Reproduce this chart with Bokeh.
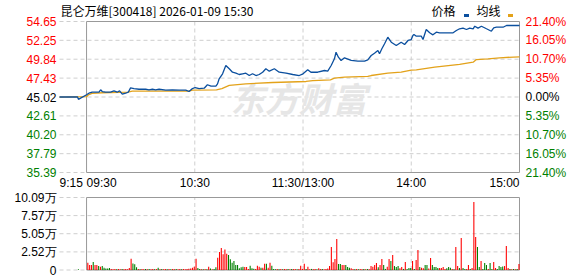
from bokeh.plotting import figure
from bokeh.layouts import column
from bokeh.models import Range1d
from bokeh.core.properties import value
from bokeh.embed import file_html
from bokeh.resources import INLINE

# ---------------- data ----------------
title_text = "昆仑万维[300418] 2026-01-09 15:30"
prev_close = 45.02
price_ticks = [54.65, 52.25, 49.84, 47.43, 45.02, 42.61, 40.20, 37.79, 35.39]
pct_labels = ["21.40%", "16.05%", "10.70%", "5.35%", "0.00%", "5.35%", "10.70%", "16.05%", "21.40%"]
vol_ticks = [10.09, 7.57, 5.05, 2.52, 0]
vol_labels = ["10.09万", "7.57万", "5.05万", "2.52万", "0"]
time_ticks = [0, 15, 75, 135, 195, 255]          # minutes on the session axis (0 = 9:15)
time_labels = ["9:15", "09:30", "10:30", "11:30/13:00", "14:00", "15:00"]
time_align = ["left", "left", "center", "center", "center", "right"]
vgrid_ticks = [75, 135, 195]
open_t = 15
close_t = 255
legend_labels = ["价格", "均线"]

# price line (session minute, price)
price_time = [0, 10, 10.5, 15, 16.3, 18.1, 20, 21.9, 22.8, 23.7, 25.5, 28.3, 30.2, 32, 33.3, 34.8,
              36.7, 38.1, 39.4, 41.3, 44.1, 47.8, 49.6, 51.5, 53.3, 55.2, 58.9, 62.6, 66.3, 70,
              71.8, 73.7, 75.2, 77.4, 80.2, 82, 84, 86.7, 87.6, 88.5, 90.4, 92.2, 94.1, 95.9,
              97.8, 99.6, 101.5, 103.3, 105.2, 107, 108.9, 110.7, 112.6, 114.4, 116.3, 119.1,
              121.8, 125.6, 129.3, 132.9, 135, 137.6, 139.4, 143.1, 146.9, 148.7, 150.6, 152.4,
              153.3, 154.6, 156.1, 158, 161.7, 165.4, 169.1, 170.9, 172.8, 174.6, 176.5, 177.4,
              178.7, 180.2, 182, 183.9, 186.7, 189.4, 191.3, 193.2, 195, 195.9, 196.5, 197.8,
              200.6, 201.5, 203.3, 205.2, 207, 208.9, 210.7, 218.2, 220, 221.8, 223.7, 225.6,
              227.4, 229.3, 230.2, 232, 233.9, 236.7, 239.4, 240.7, 242.2, 245.9, 247.8, 255]
price_value = [45.02, 45.02, 44.72, 45.30, 45.50, 45.63, 45.63, 45.63, 45.94, 45.72, 45.63, 45.63,
               45.81, 45.63, 45.81, 45.38, 45.50, 45.63, 46.19, 46.10, 46.01, 46.01, 45.94, 46.01,
               45.94, 46.01, 45.89, 45.94, 45.89, 45.89, 45.72, 46.10, 46.23, 46.10, 46.14, 46.58,
               46.40, 46.40, 46.70, 47.34, 47.98, 49.04, 48.62, 48.18, 48.06, 47.89, 47.98, 48.06,
               47.76, 47.98, 47.76, 47.89, 48.18, 48.62, 48.31, 48.62, 48.18, 48.06, 47.89, 47.76,
               47.98, 48.49, 48.18, 48.18, 48.40, 48.31, 49.04, 49.89, 50.73, 50.10, 49.68, 50.02,
               49.68, 49.59, 49.59, 49.76, 50.31, 50.61, 50.95, 50.53, 51.17, 51.81, 52.65, 52.01,
               51.59, 52.01, 51.72, 52.23, 52.35, 52.86, 52.99, 52.78, 52.78, 52.35, 53.63, 53.21,
               52.95, 53.29, 53.21, 53.21, 53.50, 53.72, 53.80, 53.63, 53.80, 53.72, 54.05, 53.80,
               54.05, 53.72, 53.41, 53.85, 53.92, 53.92, 54.14, 54.14]

# average price line
avg_time = [0, 15, 16, 18, 23.7, 38, 40.3, 71.8, 73.7, 87, 90, 94.1, 103.3, 118.2, 136.7, 140.4,
            150.2, 152.4, 158, 170.9, 172.8, 182, 189.4, 195, 197.8, 208, 221.8, 229.3, 231.1,
            237.6, 244, 255]
avg_value = [45.00, 45.06, 45.30, 45.47, 45.56, 45.63, 45.76, 45.76, 45.89, 45.94, 46.10, 46.49,
             46.70, 46.87, 47.00, 47.12, 47.21, 47.42, 47.55, 47.64, 47.76, 48.06, 48.18, 48.45,
             48.49, 48.82, 49.17, 49.46, 49.80, 49.89, 50.02, 50.15]

# volume per trading minute (万), 9:31 .. 15:00, and direction (r = up, g = down)
vol_value = [1.0, 0.7, 0.7, 1.1, 0.7, 0.7, 0.55, 0.45, 0.55, 0.3,
             0.2, 0.2, 0.28, 0.15, 0.12, 0.15, 0.12, 0.15, 0.12, 0.15,
             0.12, 0.15, 0.12, 0.28, 1.55, 0.9, 0.8, 0.4, 0.15, 0.12,
             0.15, 0.12, 0.15, 0.12, 0.15, 0.12, 0.15, 0.12, 0.15, 0.3,
             0.12, 0.15, 0.12, 0.15, 0.12, 0.15, 0.12, 0.15, 0.12, 0.15,
             0.12, 0.15, 0.12, 0.15, 0.12, 0.15, 0.18, 0.2, 0.3, 0.45,
             1.55, 0.28, 0.15, 0.12, 0.12, 0.15, 0.12, 0.45, 0.2, 0.12,
             0.15, 0.4, 1.7, 2.5, 3.05, 2.2, 2.85, 2.25, 2.1, 1.5,
             1.0, 1.25, 0.7, 0.7, 0.23, 0.37, 0.46, 0.42, 0.42, 0.15,
             0.6, 0.23, 0.18, 0.15, 0.6, 0.46, 0.32, 0.32, 0.88, 0.88,
             0.32, 1.0, 0.6, 0.15, 0.12, 0.15, 0.12, 0.15, 0.12, 0.15,
             0.12, 0.15, 0.12, 0.15, 0.12, 0.15, 0.12, 0.15, 0.6, 0.15,
             0.88, 0.15, 0.46, 0.12, 0.15, 0.12, 0.15, 0.12, 0.23, 0.12,
             0.15, 0.12, 0.15, 0.2, 0.55, 3.2, 1.07, 1.53, 4.3, 0.83,
             0.83, 0.7, 0.7, 0.7, 0.42, 0.32, 0.25, 0.15, 0.12, 0.15,
             0.12, 0.15, 0.12, 0.15, 0.12, 0.15, 0.12, 0.55, 0.46, 0.7,
             0.97, 0.4, 0.7, 1.53, 0.7, 0.15, 0.46, 1.53, 1.25, 2.1,
             0.55, 0.42, 0.55, 0.23, 0.42, 0.15, 1.1, 0.15, 0.28, 0.28,
             1.25, 0.15, 1.4, 2.8, 0.42, 0.32, 0.23, 0.7, 0.7, 0.2,
             1.67, 0.7, 0.42, 0.42, 0.28, 0.28, 0.28, 0.42, 0.15, 0.23,
             0.42, 0.32, 0.15, 0.12, 3.2, 0.55, 0.28, 4.45, 0.28, 0.15,
             0.15, 0.7, 0.15, 0.28, 9.46, 4.6, 3.2, 0.42, 1.25, 0.15,
             0.97, 0.7, 0.15, 0.97, 0.15, 1.1, 0.28, 0.15, 0.55, 0.42,
             0.5, 0.55, 3.34, 0.28, 0.15, 0.12, 0.15, 0.12, 0.15, 0.83]
vol_dir = list("rrrgrrgrgg" "gggrrrgrrg" "rrrrrgggrg" "rrgrgrrgrg" "rgrrgrgrrg"
               "rrgrrrrrrr" "rggrgrgrgr" "ggrrrrrrgg" "gggggggrrr" "gggrrrgrrg"
               "rrgggrgrgr" "rgrgrrgrrr" "rgrrgrrgrr" "grrrrrrrrg" "grrgggrrgr"
               "grrgrgrrrr" "rgrrggrrgr" "gggrrgrggg" "rgrrgrrggr" "rggggrrrrg"
               "ggrgrrgrgg" "rrgrrrggrg" "ggrggrrggg" "grrrgrgrgr")
pre_vol_time = [10]      # 9:25 call auction
pre_vol_value = [0.12]
pre_vol_dir = ["g"]

# ---------------- styling / geometry ----------------
RED, GREEN, BLACK = "#ff0000", "#008000", "#000000"
PRICE_C, AVG_C = "#0b4f9e", "#e3a21a"
GRID_C, BORDER_C = "#cfcfcf", "#999999"
NUM_FONT = "Liberation Sans"
NUM_SIZE = "12px"
CJK_FONT = "Noto Sans CJK SC"
W = 578
X0_PX, X1_PX = 59, 519            # pixel columns of 9:15 and 15:00
kx = close_t / (X1_PX - X0_PX)    # minutes per pixel
xr = Range1d(0 - X0_PX * kx, close_t + (W - X1_PX) * kx)


def col_for(v, ref):
    if v > ref + 1e-9:
        return RED
    if v < ref - 1e-9:
        return GREEN
    return BLACK


def base_fig(h, yr):
    f = figure(width=W, height=h, output_backend="svg", toolbar_location=None,
               x_axis_type=None, y_axis_type=None, x_range=xr, y_range=yr,
               min_border=0, min_border_left=0, min_border_right=0,
               min_border_top=0, min_border_bottom=0)
    f.outline_line_color = None
    f.xgrid.visible = False
    f.ygrid.visible = False
    return f

# ---------------- price panel ----------------
H1 = 190
pmin, pmax = min(price_ticks), max(price_ticks)
TOP_PX, BOT_PX = 21, 172
ky = (pmax - pmin) / (BOT_PX - TOP_PX)
p = base_fig(H1, Range1d(pmin - (H1 - BOT_PX) * ky, pmax + TOP_PX * ky))

# grid
p.segment(x0=[0] * len(price_ticks), x1=[close_t] * len(price_ticks), y0=price_ticks, y1=price_ticks,
          line_color=GRID_C, line_dash="4 3", line_width=1)
p.segment(x0=vgrid_ticks, x1=vgrid_ticks, y0=[pmin] * 3, y1=[pmax] * 3,
          line_color=GRID_C, line_dash="4 3", line_width=1)

# watermark
p.text(x=[95], y=[prev_close - 0.1], text=["东方财富"], text_font=value(CJK_FONT), text_font_size="34px",
       text_font_style="bold italic", text_color="#e6e6e6", text_baseline="middle")

p.quad(left=open_t, right=close_t, bottom=pmin, top=pmax, fill_alpha=0, line_color=BORDER_C, line_width=1)
p.line(avg_time, avg_value, line_color=AVG_C, line_width=1.3)
p.line(price_time, price_value, line_color=PRICE_C, line_width=1.3)

lab_colors = [col_for(v, prev_close) for v in price_ticks]
p.text(x=[0 - 3 * kx] * len(price_ticks), y=price_ticks, text=[f"{v:.2f}" for v in price_ticks],
       text_color=lab_colors, text_align="right", text_baseline="middle",
       text_font=value(NUM_FONT), text_font_size=NUM_SIZE)
p.text(x=[close_t + 6 * kx] * len(price_ticks), y=price_ticks, text=pct_labels,
       text_color=lab_colors, text_align="left", text_baseline="middle",
       text_font=value(NUM_FONT), text_font_size=NUM_SIZE)
for t, lab, al in zip(time_ticks, time_labels, time_align):
    p.text(x=[t], y=[pmin - 10 * ky], text=[lab], text_align=al, text_baseline="middle",
           text_color=BLACK, text_font=value(NUM_FONT), text_font_size=NUM_SIZE)

# title and legend
p.text(x=[0 + 1 * kx], y=[pmax + 11 * ky], text=[title_text], text_baseline="middle",
       text_font=value(CJK_FONT), text_font_size="12px", text_color=BLACK)
p.text(x=[close_t - 64 * kx, close_t - 19 * kx], y=[pmax + 11 * ky] * 2, text=legend_labels,
       text_align="right", text_baseline="middle", text_font=value(CJK_FONT),
       text_font_size="12px", text_color=BLACK)
p.rect(x=[close_t - 53 * kx, close_t - 9 * kx], y=[pmax + 6 * ky] * 2, width=5 * kx, height=3 * ky,
       fill_color=[PRICE_C, AVG_C], line_color=None)

# ---------------- volume panel ----------------
H2 = 86
vmax = max(vol_ticks)
VTOP_PX, VBOT_PX = 7, 79.5
kv = vmax / (VBOT_PX - VTOP_PX)
q = base_fig(H2, Range1d(0 - (H2 - VBOT_PX) * kv, vmax + VTOP_PX * kv))
q.segment(x0=[0] * len(vol_ticks), x1=[close_t] * len(vol_ticks), y0=vol_ticks, y1=vol_ticks,
          line_color=GRID_C, line_dash="4 3", line_width=1)
q.segment(x0=vgrid_ticks, x1=vgrid_ticks, y0=[0] * 3, y1=[vmax] * 3,
          line_color=GRID_C, line_dash="4 3", line_width=1)
q.quad(left=open_t, right=close_t, bottom=0, top=vmax, fill_alpha=0, line_color=BORDER_C, line_width=1)

bar_x = [open_t + 0.7 + i for i in range(len(vol_value))] + [t + 0.5 for t in pre_vol_time]
bar_top = vol_value + pre_vol_value
bar_col = [RED if d == "r" else GREEN for d in vol_dir + pre_vol_dir]
q.vbar(x=bar_x, top=bar_top, bottom=0, width=0.6, fill_color=bar_col, line_color=None)

q.text(x=[0 - 3 * kx] * len(vol_ticks), y=vol_ticks, text=vol_labels, text_color=BLACK,
       text_align="right", text_baseline="middle", text_font=value(NUM_FONT), text_font_size=NUM_SIZE)

layout = column(p, q, spacing=0)
open("out.html", "w").write(file_html(layout, INLINE))
